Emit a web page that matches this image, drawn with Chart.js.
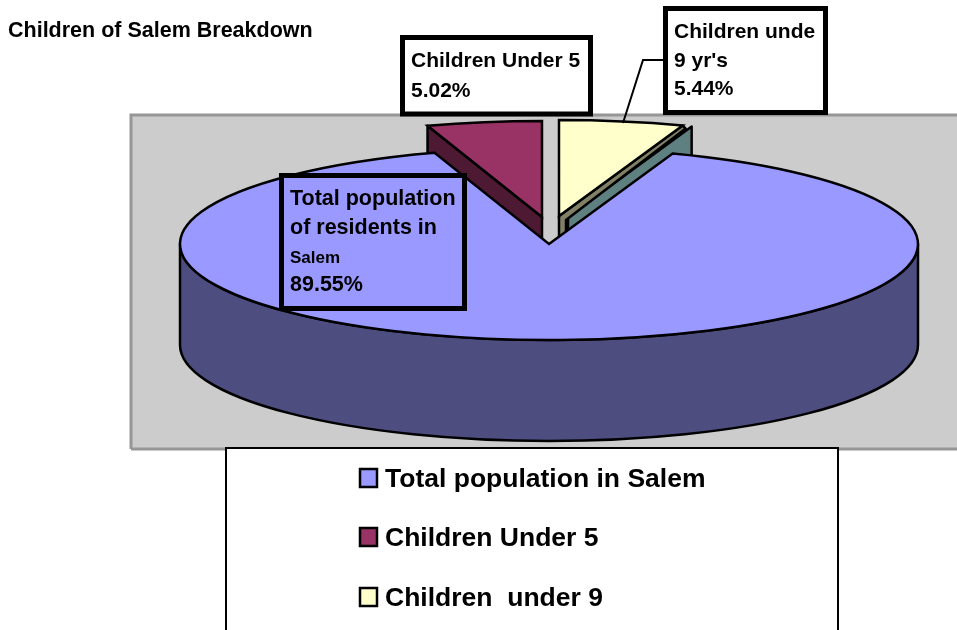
<!DOCTYPE html>
<html>
<head>
<meta charset="utf-8">
<title>Children of Salem Breakdown</title>
<script src="https://cdn.jsdelivr.net/npm/chart.js@4/dist/chart.umd.min.js"></script>
<style>
    html, body { margin: 0; padding: 0; background: #ffffff; overflow: hidden; }
    canvas { display: block; }
</style>
</head>
<body>
<canvas id="myChart" width="957" height="630"></canvas>
<script>
// drawn back to front, so the big slice comes last
const categories = ['Children Under 5', 'Children  under 9', 'Total population in Salem'];
const shares = [5.02, 5.44, 89.55];
const sliceColors = ['#993366', '#ffffcc', '#9999ff'];
const wallColors = ['#4d1933', '#808066', '#4d4d80'];
const legendOrder = [2, 0, 1];

const calloutLines = [
    ['Children Under 5', '5.02%'],
    ['Children unde', "9 yr's", '5.44%'],
    ['Total population', 'of residents in', 'Salem', '89.55%']
];

// pie squashed onto the page
const pie = { x: 549, y: 244, rx: 369, ry: 96, depth: 101 };
const explode = [{ x: -7, y: -27 }, { x: 10, y: -28 }, { x: 0, y: 0 }];
const FONT = '"Liberation Sans", Arial, sans-serif';

function ellipsePoint(c, a) {
    return { x: c.x + pie.rx * Math.cos(a), y: c.y + pie.ry * Math.sin(a) };
}

function poly(ctx, pts, fill) {
    ctx.beginPath();
    pts.forEach(function (p, i) { i ? ctx.lineTo(p.x, p.y) : ctx.moveTo(p.x, p.y); });
    ctx.closePath();
    ctx.fillStyle = fill;
    ctx.fill();
    ctx.stroke();
}

function box(ctx, x, y, w, h, fill) {
    ctx.fillStyle = fill;
    ctx.fillRect(x, y, w, h);
    ctx.lineWidth = 5;
    ctx.strokeStyle = '#000000';
    ctx.strokeRect(x, y, w, h);
}

function textLines(ctx, lines, x, baselines, sizes) {
    ctx.fillStyle = '#000000';
    ctx.textAlign = 'left';
    ctx.textBaseline = 'alphabetic';
    lines.forEach(function (t, i) {
        ctx.font = 'bold ' + sizes[i] + 'px ' + FONT;
        ctx.fillText(t, x, baselines[i]);
    });
}

const pie3d = {
    id: 'pie3d',
    beforeDraw: function (chart) {
        const ctx = chart.ctx;
        ctx.save();
        ctx.fillStyle = '#cccccc';
        ctx.fillRect(130, 114, 827, 335);
        ctx.strokeStyle = '#969696';
        ctx.lineWidth = 3;
        ctx.beginPath();
        ctx.moveTo(131, 449);
        ctx.lineTo(131, 115);
        ctx.lineTo(957, 115);
        ctx.moveTo(131, 449);
        ctx.lineTo(957, 449);
        ctx.stroke();
        ctx.restore();
    },
    afterDatasetsUpdate: function (chart) {
        // move the exploded slices, in the unsquashed coordinates of the arcs
        const arcs = chart.getDatasetMeta(0).data;
        const R = arcs[0].outerRadius;
        chart.$center = { x: arcs[0].x, y: arcs[0].y };
        arcs.forEach(function (arc, i) {
            arc.x += explode[i].x * R / pie.rx;
            arc.y += explode[i].y * R / pie.ry;
        });
    },
    beforeDatasetsDraw: function (chart) {
        const ctx = chart.ctx;
        const arcs = chart.getDatasetMeta(0).data;
        const d = pie.depth;
        const down = function (p) { return { x: p.x, y: p.y + d }; };
        const center = function (i) { return { x: pie.x + explode[i].x, y: pie.y + explode[i].y }; };

        ctx.save();
        ctx.lineWidth = 2.5;
        ctx.strokeStyle = '#000000';
        ctx.lineJoin = 'round';

        // side of the red slice
        let c = center(0);
        let edge = ellipsePoint(c, arcs[0].startAngle);
        poly(ctx, [c, edge, down(edge), down(c)], wallColors[0]);

        // side of the yellow slice and the sliver behind it
        c = center(1);
        edge = ellipsePoint(c, arcs[1].endAngle);
        const s = { x: 9, y: 1 };
        const c2 = { x: c.x + s.x, y: c.y + s.y };
        const e2 = { x: edge.x + s.x, y: edge.y + s.y };
        poly(ctx, [c2, e2, down(e2), down(c2)], '#5f8080');
        const e3 = { x: edge.x + 3, y: edge.y + 3 };
        const c3 = { x: c.x + 7, y: c.y + 4 };
        poly(ctx, [c, edge, e3, c3, down(c3), down(c)], wallColors[1]);

        // front rim of the big slice
        c = center(2);
        ctx.beginPath();
        ctx.moveTo(c.x - pie.rx, c.y);
        ctx.lineTo(c.x - pie.rx, c.y + d);
        ctx.ellipse(c.x, c.y + d, pie.rx, pie.ry, 0, Math.PI, 0, true);
        ctx.lineTo(c.x + pie.rx, c.y);
        ctx.ellipse(c.x, c.y, pie.rx, pie.ry, 0, 0, Math.PI, false);
        ctx.closePath();
        ctx.fillStyle = wallColors[2];
        ctx.fill();
        ctx.stroke();
        ctx.restore();

        // squash the flat arcs the library is about to draw
        const R = arcs[0].outerRadius;
        ctx.save();
        ctx.translate(pie.x, pie.y);
        ctx.scale(pie.rx / R, pie.ry / R);
        ctx.translate(-chart.$center.x, -chart.$center.y);
    },
    afterDatasetsDraw: function (chart) {
        const ctx = chart.ctx;
        ctx.restore();

        // outlines with an even pen
        const arcs = chart.getDatasetMeta(0).data;
        ctx.save();
        ctx.lineWidth = 2.5;
        ctx.strokeStyle = '#000000';
        ctx.lineJoin = 'miter';
        arcs.forEach(function (arc, i) {
            const c = { x: pie.x + explode[i].x, y: pie.y + explode[i].y };
            ctx.beginPath();
            ctx.moveTo(c.x, c.y);
            ctx.ellipse(c.x, c.y, pie.rx, pie.ry, 0, arc.startAngle, arc.endAngle, false);
            ctx.closePath();
            ctx.stroke();
        });

        // leader line of the yellow slice
        ctx.lineWidth = 2;
        ctx.beginPath();
        ctx.moveTo(623, 123);
        ctx.lineTo(643, 60);
        ctx.lineTo(664, 60);
        ctx.stroke();

        // callouts
        box(ctx, 402.5, 37.5, 188, 76.5, '#ffffff');
        textLines(ctx, calloutLines[0], 411, [67, 97], [21, 21]);
        box(ctx, 665.5, 8.5, 160, 104, '#ffffff');
        textLines(ctx, calloutLines[1], 674, [38, 67, 95], [21, 21, 21]);
        box(ctx, 281.5, 175.5, 183, 133, sliceColors[2]);
        textLines(ctx, calloutLines[2], 290, [205, 234, 263, 291], [21.5, 21.5, 17, 21.5]);

        // legend box
        ctx.fillStyle = '#ffffff';
        ctx.fillRect(226, 448, 612, 190);
        ctx.lineWidth = 2;
        ctx.strokeStyle = '#000000';
        ctx.strokeRect(226, 448, 612, 190);
        const rows = [479, 538, 598];
        legendOrder.forEach(function (idx, row) {
            ctx.fillStyle = sliceColors[idx];
            ctx.fillRect(360, rows[row] - 10, 17, 18);
            ctx.lineWidth = 2.5;
            ctx.strokeRect(360, rows[row] - 10, 17, 18);
            ctx.fillStyle = '#000000';
            ctx.font = 'bold 26.5px ' + FONT;
            ctx.textAlign = 'left';
            ctx.textBaseline = 'middle';
            ctx.fillText(categories[idx], 385, rows[row] + 1);
        });
        ctx.restore();
    }
};

new Chart(document.getElementById('myChart').getContext('2d'), {
    type: 'pie',
    data: {
        labels: categories,
        datasets: [{
            label: 'Children of Salem Breakdown',
            data: shares,
            backgroundColor: sliceColors,
            borderWidth: 0,
            clip: false
        }]
    },
    options: {
        responsive: false,
        animation: false,
        rotation: -shares[0] * 3.6,
        layout: { padding: { left: 8, top: 18 } },
        plugins: {
            legend: { display: false },
            tooltip: { enabled: false },
            title: {
                display: true,
                text: 'Children of Salem Breakdown',
                align: 'start',
                color: '#000000',
                padding: 0,
                font: { family: FONT, size: 21.5, weight: 'bold' }
            }
        }
    },
    plugins: [pie3d]
});
</script>
</body>
</html>
